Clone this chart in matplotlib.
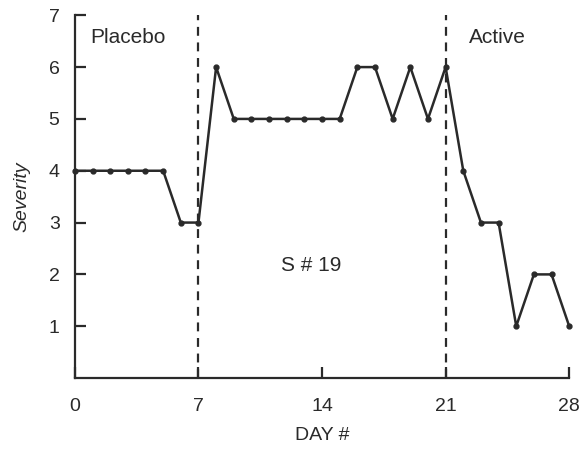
import matplotlib
matplotlib.use("Agg")
import matplotlib.pyplot as plt

days = list(range(29))
severity = [4, 4, 4, 4, 4, 4, 3, 3, 6, 5, 5, 5, 5, 5, 5, 5, 6, 6, 5, 6, 5, 6,
            4, 3, 3, 1, 2, 2, 1]
phase_changes = [7, 21]
x_ticks = [0, 7, 14, 21, 28]
y_ticks = [1, 2, 3, 4, 5, 6, 7]

plt.rcParams['font.family'] = ['Liberation Sans', 'DejaVu Sans']
fig = plt.figure(figsize=(5.85, 4.49), dpi=100)
ax = fig.add_axes([0.128, 0.158, 0.845, 0.808])
col = '#2a2a2a'

ax.plot(days, severity, color=col, lw=1.8, marker='o', ms=3.5, zorder=3,
        clip_on=False)
for xc in phase_changes:
    ax.plot([xc, xc], [0, 7], color=col, lw=1.6, ls=(0, (4, 3)), zorder=2)

ax.set_xlim(0, 28)
ax.set_ylim(0, 7)
ax.spines['top'].set_visible(False)
ax.spines['right'].set_visible(False)
for s in ['left', 'bottom']:
    ax.spines[s].set_color(col)
    ax.spines[s].set_linewidth(1.6)
ax.set_xticks(x_ticks)
ax.set_xticklabels([str(v) for v in x_ticks])
ax.set_yticks(y_ticks)
ax.set_yticklabels([str(v) for v in y_ticks])
ax.tick_params(direction='in', length=8, width=1.6, color=col, labelcolor=col,
               labelsize=14)
ax.tick_params(axis='y', pad=11)
ax.tick_params(axis='x', pad=14)

ax.set_xlabel('DAY #', fontsize=14, color=col, labelpad=9)
ax.set_ylabel('Severity', fontsize=14, color=col, style='italic', labelpad=13)

ax.text(0.85, 6.57, 'Placebo', fontsize=15, color=col, va='center', ha='left')
ax.text(22.3, 6.57, 'Active', fontsize=15, color=col, va='center', ha='left')
ax.text(13.4, 2.18, 'S # 19', fontsize=15, color=col, va='center', ha='center')

fig.savefig('out.png', dpi=100)
